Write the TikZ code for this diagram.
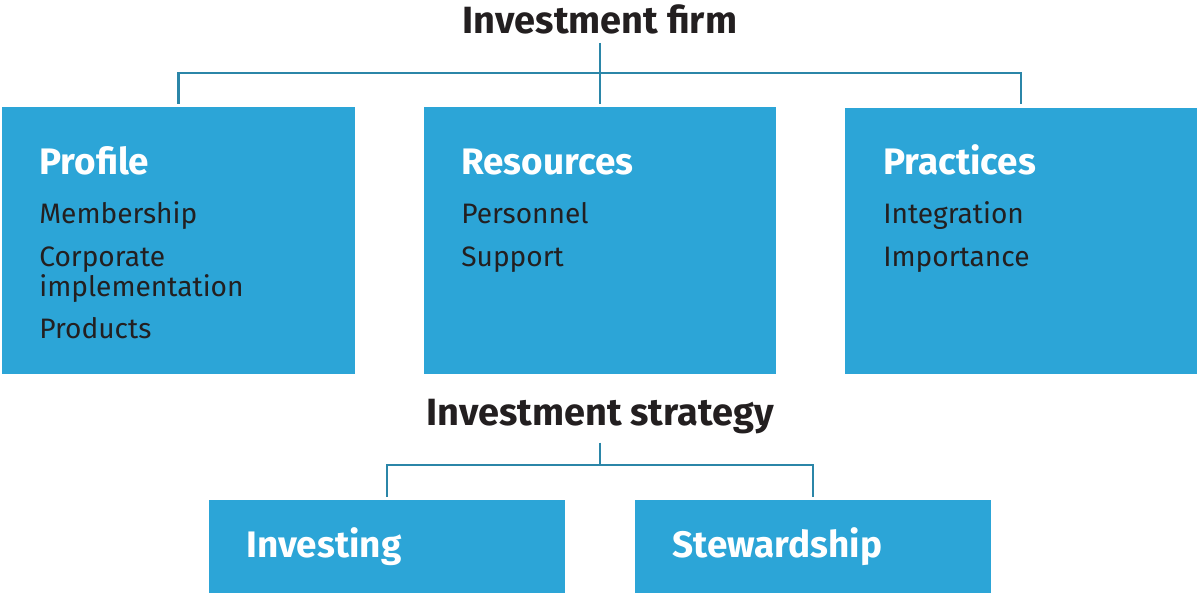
\documentclass[tikz,border=0pt]{standalone}
\usepackage{fontspec}
\setmainfont{Fira Sans}
\definecolor{boxblue}{HTML}{2CA5D7}
\definecolor{linkblue}{HTML}{2B86A8}
\definecolor{ink}{HTML}{231F20}

\begin{document}
\begin{tikzpicture}[x=0.02cm,y=-0.02cm,
    box/.style={fill=boxblue, minimum width=7.06cm, minimum height=5.34cm, inner sep=0pt},
    lowbox/.style={fill=boxblue, minimum width=7.12cm, minimum height=1.86cm, inner sep=0pt},
    heading/.style={anchor=base, font=\fontsize{21.6}{26}\selectfont\bfseries, text=ink, inner sep=5pt},
    boxtitle/.style={anchor=base west, font=\fontsize{21}{25}\selectfont\bfseries, text=white, inner sep=0pt},
    item/.style={anchor=base west, font=\fontsize{16}{17}\selectfont, text=ink, inner sep=0pt, align=left},
    link/.style={draw=linkblue, line width=1.3pt}]
    \useasboundingbox (0,0) rectangle (1197,593);

    \node [heading] (firm) at (600,33) {Investment firm};
    \node [box] (profile) at (178.5,240.5) {};
    \node [box] (resources) at (600,240.5) {};
    \node [box] (practices) at (1021,241) {};

    \node [boxtitle] (profiletitle) at (39,174) {Profile};
    \node [item] (membership) at (39,223) {Membership};
    \node [item] (corporate) at (39,296) {Corporate\\implementation};
    \node [item] (products) at (39,338) {Products};

    \node [boxtitle] (resourcestitle) at (461,174) {Resources};
    \node [item] (personnel) at (461,223) {Personnel};
    \node [item] (support) at (461,266) {Support};

    \node [boxtitle] (practicestitle) at (883,174) {Practices};
    \node [item] (integration) at (883,223) {Integration};
    \node [item] (importance) at (883,266) {Importance};

    \coordinate (topjoin) at (600,73);
    \draw [link] (firm.south) -- (topjoin);
    \draw [link, shorten >=1.7pt] (topjoin) -| (profile.north);
    \draw [link, shorten >=1.7pt] (topjoin) -- (resources.north);
    \draw [link, shorten >=1.7pt] (topjoin) -| (practices.north);

    \node [heading] (strategy) at (600,425) {Investment strategy};
    \node [lowbox] (investing) at (387,546.5) {};
    \node [lowbox] (stewardship) at (813,546.5) {};
    \node [boxtitle] (investingtitle) at (246,557) {Investing};
    \node [boxtitle] (stewardshiptitle) at (672,557) {Stewardship};

    \coordinate (lowjoin) at (600,465);
    \draw [link] (strategy.south) -- (lowjoin);
    \draw [link, shorten >=1.7pt] (lowjoin) -| (investing.north);
    \draw [link, shorten >=1.7pt] (lowjoin) -| (stewardship.north);
\end{tikzpicture}
\end{document}
